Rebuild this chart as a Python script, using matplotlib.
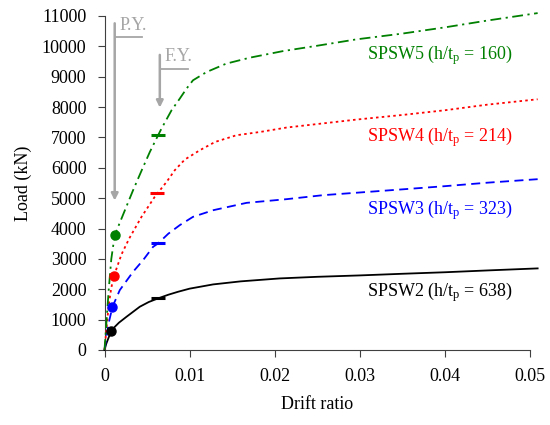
import numpy as np
import matplotlib
matplotlib.use('Agg')
import matplotlib.pyplot as plt

plt.rcParams['font.family'] = 'Liberation Serif'
plt.rcParams['mathtext.fontset'] = 'custom'
plt.rcParams['mathtext.rm'] = 'Liberation Serif'
plt.rcParams['mathtext.it'] = 'Liberation Serif:italic'

# load-drift curves
drift_2 = [0, 0.0002, 0.0005, 0.00082, 0.0012, 0.0017, 0.00259, 0.00415, 0.0052, 0.0063, 0.0075,
           0.00865, 0.010, 0.01277, 0.016, 0.0206, 0.025, 0.030, 0.035, 0.040, 0.045, 0.0509]
load_2 = [0, 200, 420, 620, 760, 900, 1095, 1425, 1580, 1700, 1820,
          1918, 2020, 2160, 2260, 2357, 2410, 2456, 2510, 2560, 2620, 2687]

drift_3 = [0, 0.0002, 0.0005, 0.00094, 0.0018, 0.00336, 0.00454, 0.00571, 0.0063, 0.0075,
           0.00885, 0.0104, 0.0128, 0.0167, 0.0214, 0.0257, 0.030, 0.035, 0.040, 0.045, 0.0509]
load_3 = [0, 400, 900, 1425, 1974, 2576, 2961, 3398, 3510, 3830,
          4112, 4385, 4605, 4846, 4967, 5099, 5187, 5290, 5395, 5510, 5625]

drift_4 = [0, 0.0002, 0.0005, 0.0008, 0.0011, 0.002, 0.0029, 0.00435, 0.0059, 0.0073,
           0.00826, 0.00944, 0.0112, 0.013, 0.0155, 0.0183, 0.0214, 0.0296, 0.035, 0.040,
           0.045, 0.0509]
load_4 = [0, 600, 1500, 2050, 2434, 3150, 3670, 4385, 5043, 5537,
          5921, 6272, 6579, 6852, 7072, 7181, 7326, 7588, 7740, 7895,
          8080, 8257]

drift_5 = [0, 0.0002, 0.0005, 0.0008, 0.0012, 0.002, 0.00336, 0.0045, 0.00533, 0.0063,
           0.0067, 0.00788, 0.00885, 0.00964, 0.0104, 0.012, 0.0143, 0.0171, 0.021, 0.025,
           0.0296, 0.035, 0.040, 0.045, 0.0509]
load_5 = [0, 800, 2000, 3000, 3783, 4330, 5263, 6000, 6523, 7072,
          7293, 7895, 8280, 8608, 8882, 9155, 9430, 9628, 9845, 10020,
          10230, 10420, 10625, 10850, 11095]

# proportional yield (dots) and full yield (dashes)
py_drift = [0.00082, 0.00094, 0.0011, 0.0012]
py_load = [620, 1425, 2434, 3783]
fy_drift = [0.0063, 0.0063, 0.0062, 0.0063]
fy_load = [1700, 3510, 5180, 7072]

names = ['SPSW2', 'SPSW3', 'SPSW4', 'SPSW5']
ratios = [638, 323, 214, 160]
label_y = [1918, 4605, 7015, 9700]
colors = ['black', 'blue', 'red', 'green']
styles = ['-', (0, (5, 3)), (0, (1.4, 1.8)), (0, (6, 2.5, 1.2, 2.5))]

fig = plt.figure(figsize=(5.5, 4.25), dpi=100)
ax = fig.add_axes([0.190, 0.1765, 0.7736, 0.7859])

curves = [(drift_2, load_2), (drift_3, load_3), (drift_4, load_4), (drift_5, load_5)]
for i, (x, y) in enumerate(curves):
    ax.plot(x, y, color=colors[i], linestyle=styles[i], lw=1.3, clip_on=False, zorder=3)
    ax.plot(py_drift[i], py_load[i], 'o', color=colors[i], ms=6.5, zorder=4)
    ax.plot(fy_drift[i], fy_load[i], '_', color=colors[i], ms=10, mew=2.2, zorder=4)
    ax.text(0.0308, label_y[i], f'{names[i]} (h/t$_\\mathrm{{p}}$ = {ratios[i]})',
            color=colors[i], fontsize=13, va='center', ha='left')

gray = '#a6a6a6'
# P.Y. annotation
ax.annotate('', xy=(0.0012, 4830), xytext=(0.0012, 10850),
            arrowprops=dict(arrowstyle='-|>', color=gray, lw=1.8, mutation_scale=10))
ax.plot([0.0012, 0.00435], [10300, 10300], color=gray, lw=1.3)
ax.text(0.00175, 10690, 'P.Y.', color=gray, fontsize=13, va='center', ha='left')
# F.Y. annotation
ax.annotate('', xy=(0.0065, 7890), xytext=(0.0065, 9810),
            arrowprops=dict(arrowstyle='-|>', color=gray, lw=1.8, mutation_scale=10))
ax.plot([0.0065, 0.00976], [9260, 9260], color=gray, lw=1.3)
ax.text(0.0071, 9650, 'F.Y.', color=gray, fontsize=13, va='center', ha='left')

ax.set_xlim(0, 0.05)
ax.set_ylim(0, 11000)
ax.set_xticks([0, 0.01, 0.02, 0.03, 0.04, 0.05])
ax.set_xticklabels(['0', '0.01', '0.02', '0.03', '0.04', '0.05'])
ax.set_yticks(np.arange(0, 11001, 1000))
ax.spines['top'].set_visible(False)
ax.spines['right'].set_visible(False)
ax.spines['left'].set_color('#404040')
ax.spines['bottom'].set_color('#404040')
ax.tick_params(labelsize=13, length=5, color='#404040', pad=8)
ax.set_xlabel('Drift ratio', fontsize=13, labelpad=8)
ax.set_ylabel('Load (kN)', fontsize=13, labelpad=7)

fig.savefig('out.png', dpi=100)
